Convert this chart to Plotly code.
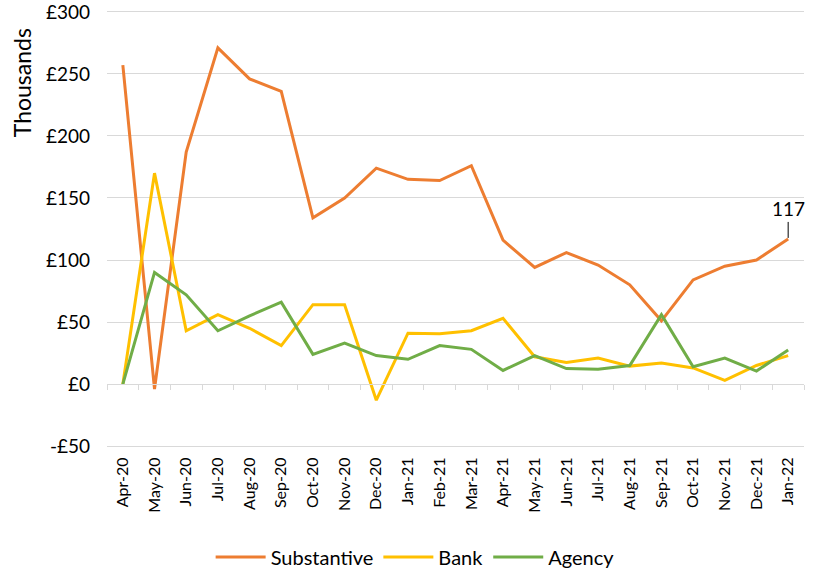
import plotly.graph_objects as go

months = ["Apr-20", "May-20", "Jun-20", "Jul-20", "Aug-20", "Sep-20", "Oct-20", "Nov-20",
          "Dec-20", "Jan-21", "Feb-21", "Mar-21", "Apr-21", "May-21", "Jun-21", "Jul-21",
          "Aug-21", "Sep-21", "Oct-21", "Nov-21", "Dec-21", "Jan-22"]

substantive = [257, -4, 187, 271, 246, 236, 134, 150, 174, 165, 164, 176, 116, 94, 106,
               96, 80, 51, 84, 95, 100, 117]
bank = [0, 170, 43, 56, 45, 31, 64, 64, -13, 41, 40.5, 43, 53, 22, 17.5, 21, 14.5, 17,
        13, 3, 15, 23]
agency = [0, 90, 72, 43, 55, 66, 24, 33, 23, 20, 31, 28, 11, 23, 12.5, 12, 15, 56, 14,
          21, 10.5, 27.5]

y_tickvals = [-50, 0, 50, 100, 150, 200, 250, 300]
y_ticktext = ["-£50", "£0", "£50", "£100", "£150", "£200", "£250", "£300"]

FONT = "Lato, Carlito, Calibri, sans-serif"
Y_RANGE = [-51.5, 301.5]

fig = go.Figure()
for name, vals, color in [("Substantive", substantive, "#ED7D31"),
                          ("Bank", bank, "#FFC000"),
                          ("Agency", agency, "#70AD47")]:
    fig.add_trace(go.Scatter(x=months, y=vals, mode="lines", name=name,
                             line=dict(color=color, width=3)))

fig.add_annotation(x=months[-1], y=substantive[-1], text=str(substantive[-1]),
                   showarrow=True, arrowhead=0, arrowwidth=1, arrowcolor="#000000",
                   ax=0, ay=-30, standoff=1, font=dict(size=19, color="#000000", family=FONT))

fig.add_annotation(xref="paper", yref="paper", x=-0.122, y=0.835, text="Thousands",
                   textangle=-90, showarrow=False, xanchor="center", yanchor="middle",
                   font=dict(size=23, color="#000000", family=FONT))

fig.update_layout(
    width=814, height=568,
    margin=dict(l=107, r=10, t=10, b=120, autoexpand=False),
    paper_bgcolor="white", plot_bgcolor="white",
    font=dict(family=FONT, color="#000000"),
    showlegend=True,
    legend=dict(orientation="h", xref="container", x=0.51, xanchor="center",
                y=-0.249, yanchor="middle",
                font=dict(size=20, family=FONT), itemwidth=50, tracegroupgap=0),
    xaxis=dict(
        type="category", range=[-0.5, len(months) - 0.5],
        anchor="free", position=(0 - Y_RANGE[0]) / (Y_RANGE[1] - Y_RANGE[0]),
        automargin=False,
        showgrid=False, showline=True, linecolor="#D9D9D9", linewidth=1,
        ticks="outside", tickson="boundaries", ticklen=5, tickcolor="#D9D9D9",
        tickangle=-90, tickfont=dict(size=16, family=FONT),
        ticklabelstandoff=66,
    ),
    yaxis=dict(
        range=Y_RANGE, tickvals=y_tickvals, ticktext=y_ticktext, automargin=False,
        showgrid=True, gridcolor="#D9D9D9", gridwidth=1, zeroline=False,
        showline=False, ticks="", tickfont=dict(size=19, family=FONT),
        ticklabelstandoff=16, domain=[0, 1], ticklabeloverflow="allow",
    ),
)

fig.write_html("out.html")
